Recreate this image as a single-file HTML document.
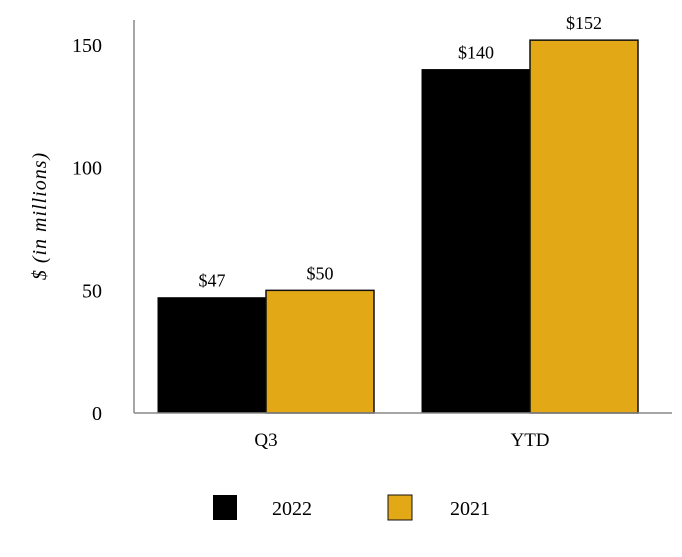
<!DOCTYPE html>
<html><head><meta charset="utf-8"><style>
body{margin:0;background:#fff}
svg text{font-family:"Liberation Serif",serif;fill:#000}
</style></head><body>
<svg id="chart" width="682" height="552"></svg>
<script>
const categories=["Q3","YTD"];
const series2022=[47,140];
const series2021=[50,152];
const labels2022=["$47","$140"];
const labels2021=["$50","$152"];
const yTicks=[0,50,100,150];
const NS="http://www.w3.org/2000/svg";
const svg=document.getElementById('chart');
function el(t,a,txt){const e=document.createElementNS(NS,t);for(const k in a)e.setAttribute(k,a[k]);if(txt!==undefined)e.textContent=txt;svg.appendChild(e);return e;}
const y0=413,pxPerUnit=2.453;
function y(v){return y0-v*pxPerUnit;}
const plotL=134,plotR=672,barW=108;
function xc(i){return 266+264*i;}
const gold="#E3A815";
categories.forEach((c,i)=>{
  const cx=xc(i);
  let b=el('rect',{x:cx-barW,y:y(series2022[i]),width:barW,height:y0-y(series2022[i]),fill:"#000",stroke:"#000"});
  
  
  b=el('rect',{x:cx,y:y(series2021[i]),width:barW,height:y0-y(series2021[i]),fill:gold,stroke:"#111","stroke-width":1.5});
  
  
  let t=el('text',{x:cx-barW/2,y:y(series2022[i])-11,'text-anchor':'middle','font-size':18},labels2022[i]);
  
  
  t=el('text',{x:cx+barW/2,y:y(series2021[i])-11,'text-anchor':'middle','font-size':18},labels2021[i]);
  
  
  t=el('text',{x:cx,y:446,'text-anchor':'middle','font-size':19},c);
  
  
});
yTicks.forEach(v=>{
  const t=el('text',{x:102,y:y(v)+7,'text-anchor':'end','font-size':20},String(v));
  
  
});
let a=el('line',{x1:plotL,y1:20,x2:plotL,y2:y0,stroke:"#888","stroke-width":1.5});


a=el('line',{x1:plotL,y1:y0,x2:plotR,y2:y0,stroke:"#888","stroke-width":1.5});


a=el('text',{x:0,y:0,'text-anchor':'middle','font-size':20,'font-style':'italic','letter-spacing':1,transform:'translate(46,216) rotate(-90)'},'$ (in millions)');


a=el('rect',{x:213,y:495,width:24,height:25,fill:"#000"});


a=el('text',{x:272,y:515,'font-size':20},'2022');


a=el('rect',{x:388,y:495,width:24,height:25,fill:gold,stroke:"#111"});


a=el('text',{x:450,y:515,'font-size':20},'2021');


</script>
</body></html>
